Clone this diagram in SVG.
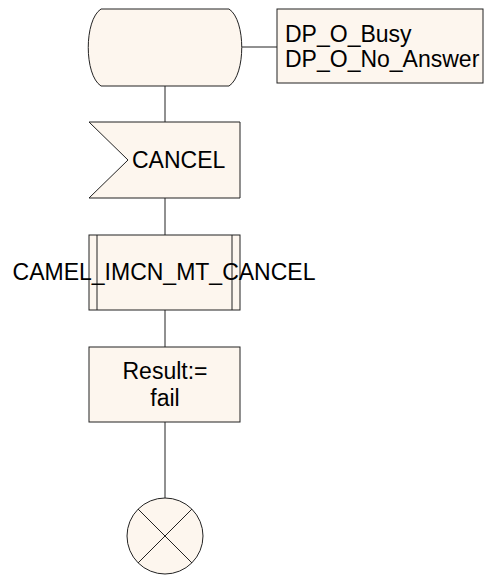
<svg xmlns="http://www.w3.org/2000/svg" width="485" height="575" viewBox="0 0 485 575">
<style>
.s{fill:#fdf6ee;stroke:#222;stroke-width:1}
.l{fill:none;stroke:#222;stroke-width:1}
.t{font-family:"Liberation Sans",Arial,sans-serif;font-size:23px;fill:#000}
</style>
<rect width="485" height="575" fill="#fff"/>
<g id="connectors">
<line class="l" x1="165" y1="86" x2="165" y2="122"/>
<line class="l" x1="242" y1="47" x2="277" y2="47"/>
<line class="l" x1="165" y1="198" x2="165" y2="235"/>
<line class="l" x1="165" y1="310" x2="165" y2="347"/>
<line class="l" x1="165" y1="422" x2="165" y2="498"/>
</g>
<g id="state">
<path class="s" d="M101,9 L229,9 C246,20 246,75 229,86 L101,86 C84,75 84,20 101,9 Z"/>
</g>
<g id="comment">
<rect class="s" x="277" y="9" width="206" height="74"/>
<text class="t" x="285" y="42">DP_O_Busy</text>
<text class="t" x="285" y="67">DP_O_No_Answer</text>
</g>
<g id="cancel">
<polygon class="s" points="89,122 240,122 240,198 89,198 128,160"/>
<text class="t" x="132" y="168">CANCEL</text>
</g>
<g id="procedure">
<rect class="s" x="89" y="235" width="151" height="75"/>
<line class="l" x1="97" y1="235" x2="97" y2="310"/>
<line class="l" x1="232" y1="235" x2="232" y2="310"/>
<text class="t" x="164" y="280" text-anchor="middle">CAMEL_IMCN_MT_CANCEL</text>
</g>
<g id="task">
<rect class="s" x="89" y="347" width="151" height="75"/>
<text class="t" x="165" y="379" text-anchor="middle">Result:=</text>
<text class="t" x="165" y="406" text-anchor="middle">fail</text>
</g>
<g id="stop">
<circle class="s" cx="165" cy="536" r="38"/>
<line class="l" x1="138" y1="509" x2="192" y2="563"/>
<line class="l" x1="192" y1="509" x2="138" y2="563"/>
</g>
</svg>
